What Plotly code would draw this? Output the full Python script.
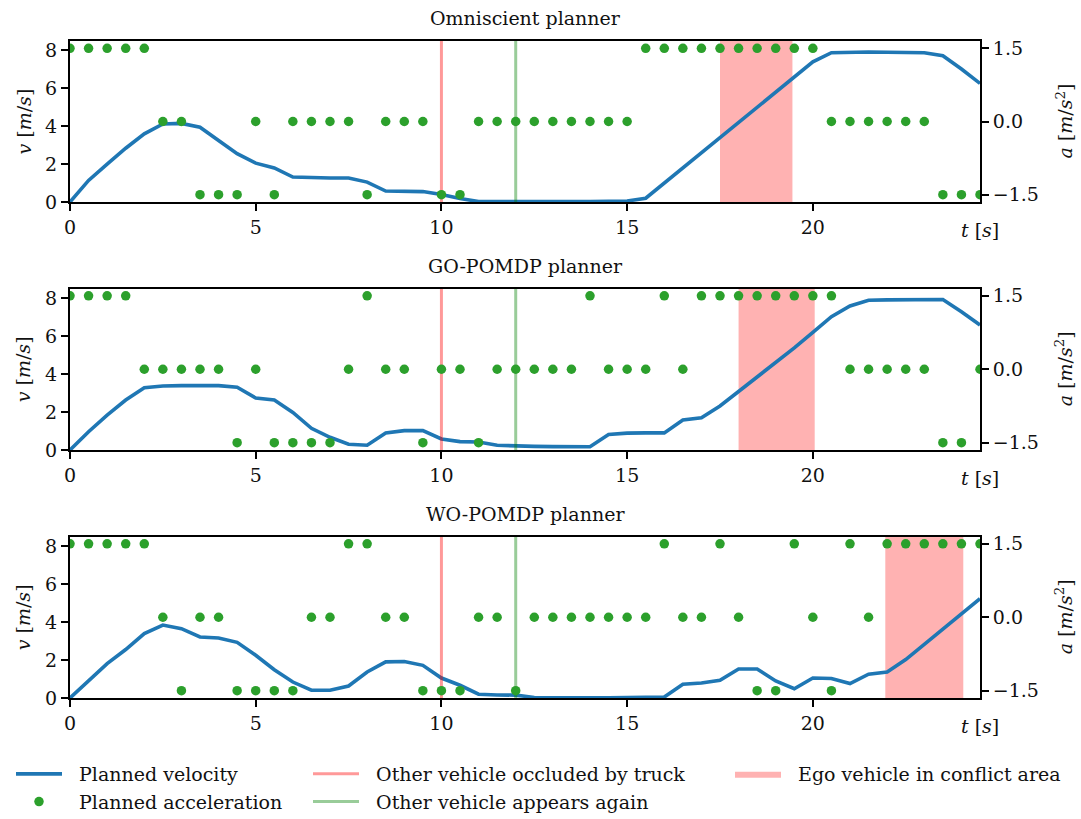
import plotly.graph_objects as go

# ---- data -------------------------------------------------------------
T = [0.0, 0.5, 1.0, 1.5, 2.0, 2.5, 3.0, 3.5, 4.0, 4.5,
     5.0, 5.5, 6.0, 6.5, 7.0, 7.5, 8.0, 8.5, 9.0, 9.5,
     10.0, 10.5, 11.0, 11.5, 12.0, 12.5, 13.0, 13.5, 14.0, 14.5,
     15.0, 15.5, 16.0, 16.5, 17.0, 17.5, 18.0, 18.5, 19.0, 19.5,
     20.0, 20.5, 21.0, 21.5, 22.0, 22.5, 23.0, 23.5, 24.0, 24.5]

PLANNERS = ["Omniscient planner", "GO-POMDP planner", "WO-POMDP planner"]

V_OMNI = [0.0, 1.14, 2.0, 2.84, 3.6, 4.12, 4.15, 3.95, 3.25, 2.55,
          2.05, 1.8, 1.32, 1.28, 1.27, 1.27, 1.05, 0.58, 0.57, 0.55,
          0.4, 0.18, 0.03, 0.02, 0.02, 0.02, 0.02, 0.02, 0.02, 0.03,
          0.05, 0.2, 1.0, 1.8, 2.6, 3.4, 4.2, 5.0, 5.8, 6.6,
          7.4, 7.88, 7.92, 7.92, 7.91, 7.9, 7.88, 7.72, 7.02, 6.26]
V_GO = [0.0, 0.96, 1.84, 2.63, 3.28, 3.37, 3.39, 3.4, 3.39, 3.3,
        2.74, 2.63, 1.98, 1.14, 0.67, 0.3, 0.25, 0.89, 1.02, 1.02,
        0.58, 0.44, 0.42, 0.25, 0.21, 0.19, 0.18, 0.17, 0.17, 0.82,
        0.89, 0.9, 0.9, 1.58, 1.7, 2.32, 3.07, 3.81, 4.56, 5.37,
        6.19, 7.02, 7.58, 7.88, 7.9, 7.9, 7.91, 7.92, 7.28, 6.58]
V_WO = [0.0, 0.93, 1.81, 2.55, 3.39, 3.84, 3.65, 3.21, 3.16, 2.93,
        2.25, 1.49, 0.84, 0.41, 0.41, 0.63, 1.37, 1.9, 1.92, 1.72,
        1.05, 0.67, 0.2, 0.16, 0.15, 0.03, 0.01, 0.01, 0.01, 0.01,
        0.01, 0.01, 0.05, 0.72, 0.79, 0.93, 1.53, 1.53, 0.9, 0.49,
        1.05, 1.03, 0.76, 1.25, 1.37, 2.02, 2.81, 3.6, 4.4, 5.23]

A_OMNI = [1.5, 1.5, 1.5, 1.5, 1.5, 0.0, 0.0, -1.5, -1.5, -1.5,
          0.0, -1.5, 0.0, 0.0, 0.0, 0.0, -1.5, 0.0, 0.0, 0.0,
          -1.5, -1.5, 0.0, 0.0, 0.0, 0.0, 0.0, 0.0, 0.0, 0.0,
          0.0, 1.5, 1.5, 1.5, 1.5, 1.5, 1.5, 1.5, 1.5, 1.5,
          1.5, 0.0, 0.0, 0.0, 0.0, 0.0, 0.0, -1.5, -1.5, -1.5]
A_GO = [1.5, 1.5, 1.5, 1.5, 0.0, 0.0, 0.0, 0.0, 0.0, -1.5,
        0.0, -1.5, -1.5, -1.5, -1.5, 0.0, 1.5, 0.0, 0.0, -1.5,
        0.0, 0.0, -1.5, 0.0, 0.0, 0.0, 0.0, 0.0, 1.5, 0.0,
        0.0, 0.0, 1.5, 0.0, 1.5, 1.5, 1.5, 1.5, 1.5, 1.5,
        1.5, 1.5, 0.0, 0.0, 0.0, 0.0, 0.0, -1.5, -1.5, 0.0]
A_WO = [1.5, 1.5, 1.5, 1.5, 1.5, 0.0, -1.5, 0.0, 0.0, -1.5,
        -1.5, -1.5, -1.5, 0.0, 0.0, 1.5, 1.5, 0.0, 0.0, -1.5,
        -1.5, -1.5, 0.0, 0.0, -1.5, 0.0, 0.0, 0.0, 0.0, 0.0,
        0.0, 0.0, 1.5, 0.0, 0.0, 1.5, 0.0, -1.5, -1.5, 1.5,
        0.0, -1.5, 1.5, 0.0, 1.5, 1.5, 1.5, 1.5, 1.5, 1.5]

VELOCITIES = [V_OMNI, V_GO, V_WO]
ACCELERATIONS = [A_OMNI, A_GO, A_WO]

T_OCCLUDED = 10.0
T_REAPPEAR = 12.0
CONFLICT_START = [17.5, 18.0, 21.95]
CONFLICT_END = [19.45, 20.05, 24.05]

X_TICKS = [0, 5, 10, 15, 20]
V_TICKS = [0, 2, 4, 6, 8]
A_TICKS = [-1.5, 0.0, 1.5]

# ---- style ------------------------------------------------------------
T_MAX = 24.5
V_TOP = 8.5
A_LIM = 1.65
FONT = "DejaVu Serif"
FS = 19
INK = "#111"
BLUE = "#1f77b4"
GREEN = "#2ca02c"
RED_LINE = "rgba(255,0,0,0.4)"
GREEN_LINE = "rgba(0,128,0,0.4)"
SPAN_FILL = "rgba(255,0,0,0.3)"
PAD = "\u00a0\u00a0"  # extra gap between legend handle and label

W, H = 1081, 819
ML, MR, MT, MB = 70, 101, 41, 121
PW = W - ML - MR
PH = H - MT - MB
# panel top / bottom edges in pixels from the top of the page
PANEL_PX = [(41, 202), (288.5, 450), (536.5, 698)]


def dom(top_px, bot_px):
    return [(H - MB - bot_px) / PH, (H - MB - top_px) / PH]


def txt_font():
    return dict(family=FONT, size=FS, color=INK)


fig = go.Figure()
annotations = []
layout_axes = {}

for i, name in enumerate(PLANNERS):
    xa = "x" if i == 0 else f"x{i + 1}"
    ya = "y" if i == 0 else f"y{2 * i + 1}"
    ya2 = f"y{2 * i + 2}"
    first = i == 0

    # conflict-area span
    s, e = CONFLICT_START[i], CONFLICT_END[i]
    fig.add_trace(go.Scatter(
        x=[s, e, e, s, s], y=[0, 0, V_TOP, V_TOP, 0],
        mode="lines", fill="toself", fillcolor=SPAN_FILL,
        line=dict(width=0, color=SPAN_FILL),
        name=PAD + "Ego vehicle in conflict area", legend="legend3",
        showlegend=first, hoverinfo="skip", xaxis=xa, yaxis=ya))

    # planned velocity
    fig.add_trace(go.Scatter(
        x=T, y=VELOCITIES[i], mode="lines",
        line=dict(color=BLUE, width=3.6),
        name=PAD + "Planned velocity", legend="legend",
        showlegend=first, xaxis=xa, yaxis=ya))

    # occlusion events
    fig.add_trace(go.Scatter(
        x=[T_OCCLUDED, T_OCCLUDED], y=[0, V_TOP], mode="lines",
        line=dict(color=RED_LINE, width=3),
        name=PAD + "Other vehicle occluded by truck", legend="legend2",
        showlegend=first, xaxis=xa, yaxis=ya))
    fig.add_trace(go.Scatter(
        x=[T_REAPPEAR, T_REAPPEAR], y=[0, V_TOP], mode="lines",
        line=dict(color=GREEN_LINE, width=3),
        name=PAD + "Other vehicle appears again", legend="legend2",
        showlegend=first, xaxis=xa, yaxis=ya))

    # planned acceleration on the twin axis
    fig.add_trace(go.Scatter(
        x=T, y=ACCELERATIONS[i], mode="markers",
        marker=dict(color=GREEN, size=9.5, line=dict(width=0)),
        name=PAD + "Planned acceleration", legend="legend",
        showlegend=first, xaxis=xa, yaxis=ya2))

    top_px, bot_px = PANEL_PX[i]
    d = dom(top_px, bot_px)
    axis_common = dict(
        showline=True, linecolor="black", linewidth=2,
        ticks="outside", ticklen=7, tickwidth=1.7, tickcolor="black",
        showgrid=False, zeroline=False, automargin=False,
        tickfont=txt_font(),
    )
    layout_axes["xaxis" if i == 0 else f"xaxis{i + 1}"] = dict(
        axis_common, domain=[0, 1], anchor=ya, range=[0, T_MAX],
        tickvals=X_TICKS, mirror=True)
    layout_axes["yaxis" if i == 0 else f"yaxis{2 * i + 1}"] = dict(
        axis_common, domain=d, anchor=xa, range=[0, V_TOP],
        tickvals=V_TICKS, mirror=True)
    layout_axes[f"yaxis{2 * i + 2}"] = dict(
        axis_common, overlaying=ya, anchor=xa, side="right",
        range=[-A_LIM, A_LIM], tickvals=A_TICKS, tickformat=".1f")

    hpx = bot_px - top_px
    dx = xa + " domain"
    dy = ya + " domain"
    annotations += [
        dict(text=name, xref=dx, yref=dy, x=0.5, y=1 + 23 / hpx,
             xanchor="center", yanchor="middle", showarrow=False,
             font=txt_font()),
        dict(text="<i>t</i> [<i>s</i>]", xref=dx, yref=dy, x=1.0,
             y=-28 / hpx, xanchor="center", yanchor="middle",
             showarrow=False, font=txt_font()),
        dict(text="<i>v</i> [<i>m</i>/<i>s</i>]", xref="paper", yref=dy,
             x=(23 - ML) / PW, y=0.5, xanchor="center", yanchor="middle",
             textangle=-90, showarrow=False, font=txt_font()),
        dict(text="<i>a</i> [<i>m</i>/<i>s</i><sup>2</sup>]", xref="paper",
             yref=dy, x=(1064 - ML) / PW, y=0.5, xanchor="center",
             yanchor="middle", textangle=-90, showarrow=False,
             font=txt_font()),
    ]


def legend_at(px_x, px_y):
    # legend boxes placed in page pixels (container coordinates)
    return dict(
        x=px_x / W, y=1 - px_y / H,
        xref="container", yref="container", xanchor="left", yanchor="top",
        orientation="v", bgcolor="rgba(0,0,0,0)", borderwidth=0,
        font=txt_font(), itemwidth=46, tracegroupgap=0)


fig.update_layout(
    width=W, height=H, autosize=False,
    margin=dict(l=ML, r=MR, t=MT, b=MB, autoexpand=False),
    paper_bgcolor="white", plot_bgcolor="white",
    font=txt_font(),
    annotations=annotations,
    legend=legend_at(11, 755),
    legend2=legend_at(308, 755),
    legend3=legend_at(730, 755),
    **layout_axes,
)

fig.write_html("out.html")
